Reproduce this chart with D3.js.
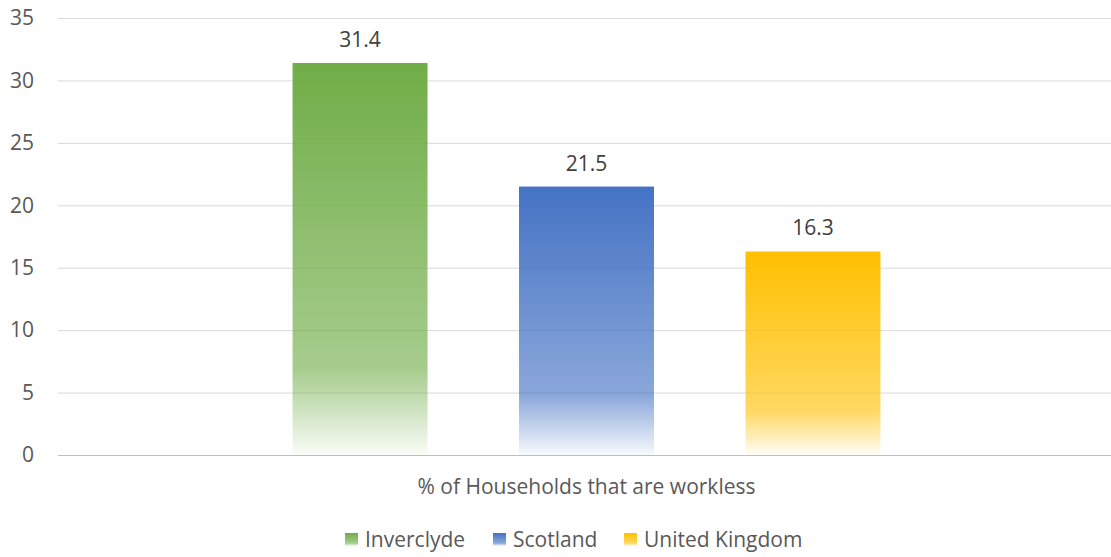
<!DOCTYPE html>
<html><head><meta charset="utf-8">
<script src="https://cdn.jsdelivr.net/npm/d3@7"></script>
<style>body{margin:0;background:#fff}svg{display:block}text{font-family:"Open Sans",sans-serif}</style>
</head><body><svg id="c" width="1111" height="557"></svg>
<script>
const categories = ["% of Households that are workless"];
const seriesNames = ["Inverclyde", "Scotland", "United Kingdom"];
const seriesValues = [31.4, 21.5, 16.3];
const seriesColors = ["#70AD47", "#4472C4", "#FFC000"];
const yTicks = [0, 5, 10, 15, 20, 25, 30, 35];

const svg = d3.select("#c");
const m = {l: 58, r: 0, t: 18, b: 102};
const W = 1111, H = 557;
const FS = "21px";
const x0 = d3.scaleBand().domain(categories).range([m.l + 2, W - m.r + 2]).paddingInner(0).paddingOuter(0);
const x1 = d3.scaleBand().domain(seriesNames).range([0, x0.bandwidth()]).paddingInner(0.404).paddingOuter(1.027);
const y = d3.scaleLinear().domain([0, 35]).range([H - m.b, m.t]);

const defs = svg.append("defs");
seriesNames.forEach((s, i) => {
  const g = defs.append("linearGradient").attr("id", "g" + i).attr("x1", 0).attr("y1", 0).attr("x2", 0).attr("y2", 1);
  g.append("stop").attr("offset", "0%").attr("stop-color", seriesColors[i]).attr("stop-opacity", 1);
  g.append("stop").attr("offset", "78%").attr("stop-color", seriesColors[i]).attr("stop-opacity", 0.62);
  g.append("stop").attr("offset", "100%").attr("stop-color", seriesColors[i]).attr("stop-opacity", 0.04);
});

// gridlines
svg.append("g").selectAll("line").data(yTicks).join("line")
  .attr("x1", m.l).attr("x2", W - m.r)
  .attr("y1", d => y(d) + 0.5).attr("y2", d => y(d) + 0.5)
  .attr("stroke", d => d === 0 ? "#BFBFBF" : "#D9D9D9").attr("stroke-width", 1);

// y axis labels
const yAxis = d3.axisLeft(y).tickValues(yTicks).tickSize(0).tickPadding(0);
const ya = svg.append("g").attr("transform", `translate(34,0)`).call(yAxis);
ya.select(".domain").remove();
ya.selectAll("text").attr("fill", "#595959").style("font-size", FS).style("font-family", "'Open Sans',sans-serif");

// bars
const cat = categories[0];
svg.append("g").selectAll("rect").data(seriesValues).join("rect")
  .attr("x", (d, i) => x0(cat) + x1(seriesNames[i]))
  .attr("width", x1.bandwidth())
  .attr("y", d => y(d))
  .attr("height", d => y(0) - y(d))
  .attr("fill", (d, i) => `url(#g${i})`);

// value labels
svg.append("g").selectAll("text").data(seriesValues).join("text")
  .attr("x", (d, i) => x0(cat) + x1(seriesNames[i]) + x1.bandwidth() / 2)
  .attr("y", d => y(d) - 16)
  .attr("text-anchor", "middle").attr("fill", "#404040").style("font-size", FS)
  .text(d => d.toFixed(1));

// category label
const xAxis = d3.axisBottom(x0).tickSize(0).tickPadding(0);
const xa = svg.append("g").attr("transform", `translate(0,${y(0) + 24})`).call(xAxis);
xa.select(".domain").remove();
xa.selectAll("text").attr("fill", "#595959").style("font-size", FS).style("font-family", "'Open Sans',sans-serif");

// legend
const legX = [345, 493, 624];
const leg = svg.append("g").selectAll("g").data(seriesNames).join("g")
  .attr("transform", (d, i) => `translate(${legX[i]},540)`);
leg.append("rect").attr("x", 0).attr("y", -7).attr("width", 13).attr("height", 13)
  .attr("fill", (d, i) => `url(#g${i})`);
leg.append("text").attr("x", 20).attr("y", 0).attr("dy", "0.35em")
  .attr("fill", "#595959").style("font-size", FS).text(d => d);
</script></body></html>
